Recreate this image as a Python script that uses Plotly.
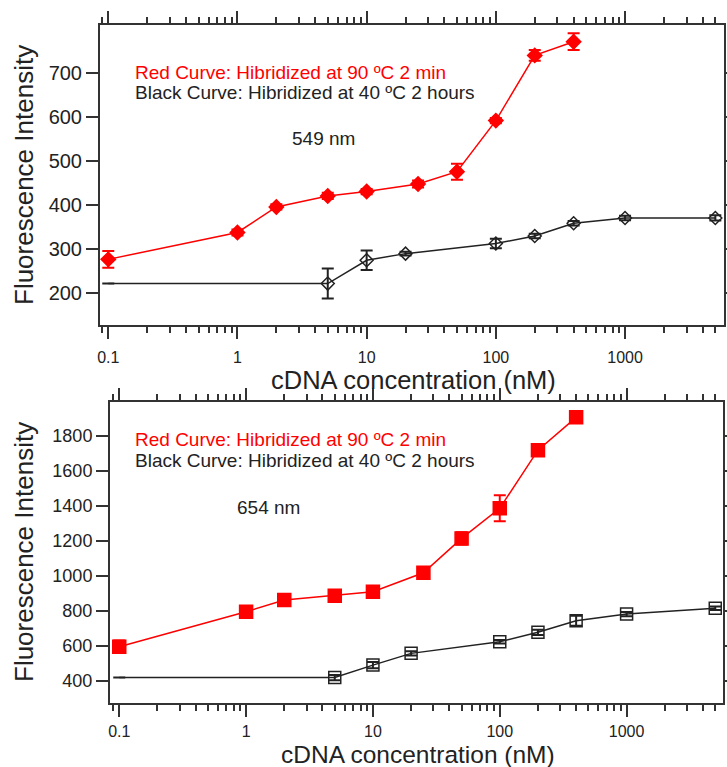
import plotly.graph_objects as go

# ---------------- data ----------------
# Top panel (549 nm)
top_red_x = [0.1, 1, 2, 5, 10, 25, 50, 100, 200, 400]
top_red_y = [276, 337, 395, 420, 430, 447, 475, 591, 739, 770]
top_red_err = [19, 7, 6, 7, 6, 8, 18, 6, 12, 19]

top_black_x = [0.1, 5, 10, 20, 100, 200, 400, 1000, 5000]
top_black_y = [221, 221, 274, 289, 312, 329, 358, 370, 370]
top_black_err = [0, 34, 22, 4, 11, 5, 5, 5, 6]

# Bottom panel (654 nm)
bot_red_x = [0.1, 1, 2, 5, 10, 25, 50, 100, 200, 400]
bot_red_y = [596, 796, 862, 887, 910, 1018, 1214, 1386, 1718, 1905]
bot_red_err = [35, 20, 15, 15, 15, 15, 35, 74, 25, 20]

bot_black_x = [0.1, 5, 10, 20, 100, 200, 400, 1000, 5000]
bot_black_y = [420, 420, 491, 558, 624, 678, 744, 782, 815]
bot_black_err = [0, 15, 18, 12, 10, 15, 28, 12, 10]

x_tick_vals = [0.1, 1, 10, 100, 1000]
x_tick_text = ["0.1", "1", "10", "100", "1000"]
top_y_ticks = [200, 300, 400, 500, 600, 700]
bot_y_ticks = [400, 600, 800, 1000, 1200, 1400, 1600, 1800]

red_label = "Red Curve: Hibridized at 90 ºC 2 min"
black_label = "Black Curve: Hibridized at 40 ºC 2 hours"
x_title = "cDNA concentration (nM)"
y_title = "Fluorescence Intensity"

# ---------------- figure ----------------
W, H = 727, 767
FONT = "Liberation Sans, Arial, sans-serif"
RED = "#ff0000"
BLK = "#222222"
AX = "#333333"

minor_vals = [m * 10 ** e for e in range(-2, 4) for m in range(2, 10)]

def px(x):
    return x / W

def py(y):
    return 1 - y / H

fig = go.Figure()

def add_series(x, y, err, color, symbol, size, xa, ya, hide_first=False, lw=1.5):
    sizes = [size] * len(x)
    if hide_first:
        sizes[0] = 0
    # error bars first (drawn underneath the markers)
    fig.add_trace(go.Scatter(
        x=x, y=y, mode="markers", xaxis=xa, yaxis=ya,
        marker=dict(size=1, color="rgba(0,0,0,0)"),
        error_y=dict(type="data", array=err, visible=True, color=color,
                     thickness=2, width=6),
        showlegend=False, hoverinfo="skip",
    ))
    fig.add_trace(go.Scatter(
        x=x, y=y, mode="lines+markers", xaxis=xa, yaxis=ya,
        line=dict(color=color, width=lw),
        marker=dict(symbol=symbol, size=sizes, color=color, opacity=1,
                    line=dict(color=color, width=1.5)),
        showlegend=False, hoverinfo="x+y",
    ))

add_series(top_red_x, top_red_y, top_red_err, RED, "diamond", 11, "x", "y")
add_series(top_black_x, top_black_y, top_black_err, BLK, "diamond-open", 10, "x", "y", hide_first=True)
add_series(bot_red_x, bot_red_y, bot_red_err, RED, "square", 13, "x2", "y2")
add_series(bot_black_x, bot_black_y, bot_black_err, BLK, "square-open", 12, "x2", "y2", hide_first=True)

def xaxis(domain, anchor, rng, standoff):
    return dict(
        type="log", domain=domain, anchor=anchor, range=rng,
        tickmode="array", tickvals=x_tick_vals, ticktext=x_tick_text,
        ticks="outside", ticklen=12, tickwidth=2, tickcolor=AX,
        minor=dict(tickmode="array", tickvals=minor_vals, ticks="outside",
                   ticklen=6, tickwidth=1.5, tickcolor=AX, showgrid=False),
        showline=True, linewidth=2, linecolor=AX, mirror="ticks",
        showgrid=False, zeroline=False, automargin=False,
        tickfont=dict(family=FONT, size=16, color=BLK),
        ticklabelstandoff=standoff,
    )

def yaxis(domain, anchor, rng, ticks, fsize):
    return dict(
        domain=domain, anchor=anchor, range=rng,
        tickmode="array", tickvals=ticks,
        ticks="outside", ticklen=12, tickwidth=2, tickcolor=AX,
        showline=True, linewidth=2, linecolor=AX, mirror="ticks",
        showgrid=False, zeroline=False, automargin=False,
        tickfont=dict(family=FONT, size=fsize, color=BLK),
    )

fig.update_layout(
    width=W, height=H,
    margin=dict(l=0, r=0, t=0, b=0),
    paper_bgcolor="white", plot_bgcolor="white",
    xaxis=xaxis([px(100), px(724)], "y", [-1.064, 3.766], 5),
    yaxis=yaxis([py(325), py(25)], "x", [127, 808], top_y_ticks, 20),
    xaxis2=xaxis([px(110), px(723)], "y2", [-1.073, 3.76], 0),
    yaxis2=yaxis([py(703.3), py(402.3)], "x2", [273, 1991], bot_y_ticks, 18),
    showlegend=False,
)

ann = []
def text(x, y, s, size, color=BLK, xanchor="left", angle=0):
    ann.append(dict(x=px(x), y=py(y), xref="paper", yref="paper", text=s,
                    showarrow=False, xanchor=xanchor, yanchor="middle",
                    textangle=angle,
                    font=dict(family=FONT, size=size, color=color)))

# top panel labels
text(133, 72, red_label, 19, RED)
text(133, 93, black_label, 19, BLK)
text(323, 138, "549 nm", 19, BLK, xanchor="center")
text(413, 380, x_title, 25.5, BLK, xanchor="center")
text(24, 175, y_title, 26, BLK, xanchor="center", angle=-90)

# bottom panel labels
text(133, 439, red_label, 19, RED)
text(133, 460, black_label, 19, BLK)
text(268, 507, "654 nm", 19, BLK, xanchor="center")
text(418, 754, x_title, 24.5, BLK, xanchor="center")
text(24, 552, y_title, 26, BLK, xanchor="center", angle=-90)

fig.update_layout(annotations=ann)

fig.write_html(
    "out.html",
    config={"displayModeBar": False},
    post_script="document.body.style.margin='0';document.body.style.overflow='hidden';",
)
